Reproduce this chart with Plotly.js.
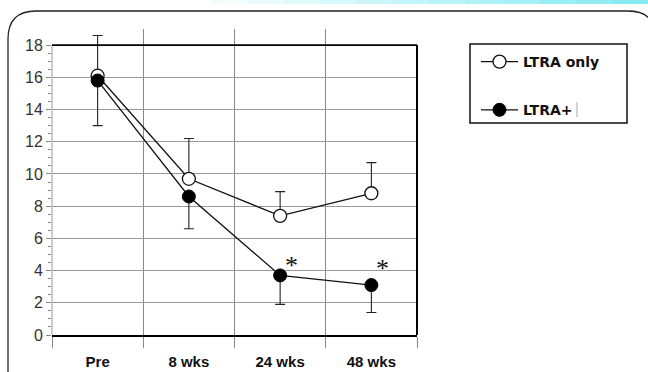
<!DOCTYPE html>
<html>
<head>
<meta charset="utf-8">
<script src="https://cdn.plot.ly/plotly-3.0.1.min.js"></script>
<style>html,body{margin:0;padding:0;background:#fff;}#chart{width:648px;height:372px;}</style>
</head>
<body>
<div id="chart"></div>
<script>
var categories = ['Pre', '8 wks', '24 wks', '48 wks'];
var ltraOnly = [16.1, 9.7, 7.4, 8.8];
var ltraOnlyErrUp = [2.5, 2.5, 1.5, 1.9];
var ltraPlus = [15.8, 8.6, 3.7, 3.1];
var ltraPlusErrDown = [2.8, 2.0, 1.8, 1.7];
var starCategories = ['24 wks', '48 wks'];
var starY = [4.3, 4.1];
var zeros = [0, 0, 0, 0];
var yMax = 18;      // top of the framed plot
var yHead = 19;     // head-room so the Pre error bar can pass the frame

var traces = [
  {
    x: categories, y: ltraOnly, type: 'scatter', mode: 'lines+markers',
    name: 'LTRA only', legendgroup: 'a',
    line: {color: '#111', width: 1.3},
    marker: {symbol: 'circle', size: 13, color: '#fff', line: {color: '#111', width: 1.3}},
    error_y: {type: 'data', symmetric: false, array: ltraOnlyErrUp, arrayminus: zeros, color: '#222', thickness: 1.1, width: 5}
  },
  {
    x: categories, y: ltraPlus, type: 'scatter', mode: 'lines+markers',
    name: 'LTRA+', legendgroup: 'b',
    line: {color: '#111', width: 1.3},
    marker: {symbol: 'circle', size: 13, color: '#000', line: {color: '#000', width: 1}},
    error_y: {type: 'data', symmetric: false, array: zeros, arrayminus: ltraPlusErrDown, color: '#222', thickness: 1.1, width: 5}
  }
];

var PT = 29, PB = 335, PL = 52, PR = 417;
function px(x) { return (x - PL) / (PR - PL); }
function py(y) { return (PB - y) / (PB - PT); }

var minorVals = [];
for (var v = 0.5; v < yMax; v += 0.5) { if (v % 2 !== 0) minorVals.push(v); }

var shapes = [];
// cyan band on top
var segs = 12;
for (var i = 0; i < segs; i++) {
  var x0 = 210 + i * (438 / segs), x1 = 210 + (i + 1) * (438 / segs);
  shapes.push({type: 'rect', xref: 'paper', yref: 'paper', x0: px(x0), x1: px(x1), y0: py(4), y1: py(0),
    fillcolor: 'rgba(110,230,240,' + (0.08 + 0.75 * i / (segs - 1)).toFixed(3) + ')', line: {width: 0}, layer: 'below'});
}
// rounded frame
var fx0 = px(8), fx1 = px(656), fyT = py(11), fyB = py(390);
var rx = 28 / (PR - PL), ry = 28 / (PB - PT);
shapes.push({type: 'path', xref: 'paper', yref: 'paper',
  path: 'M ' + fx0 + ',' + fyB + ' L ' + fx0 + ',' + (fyT - ry) + ' Q ' + fx0 + ',' + fyT + ' ' + (fx0 + rx) + ',' + fyT +
        ' L ' + (fx1 - rx) + ',' + fyT + ' Q ' + fx1 + ',' + fyT + ' ' + fx1 + ',' + (fyT - ry) + ' L ' + fx1 + ',' + fyB,
  line: {color: '#222', width: 1.3}});
// white cover over the head-room (hides grid above the frame)
shapes.push({type: 'rect', xref: 'paper', yref: 'y', x0: -0.01, x1: 1.01, y0: yMax, y1: yHead + 1, fillcolor: '#fff', line: {width: 0}, layer: 'between'});
// plot frame: left (grey), top and right (black)
shapes.push({type: 'line', xref: 'paper', yref: 'y', x0: 0, x1: 0, y0: 0, y1: yMax, line: {color: '#999', width: 1}});
shapes.push({type: 'line', xref: 'paper', yref: 'y', x0: 0, x1: 1, y0: yMax, y1: yMax, line: {color: '#000', width: 1.6}});
shapes.push({type: 'line', xref: 'paper', yref: 'y', x0: 1, x1: 1, y0: 0, y1: yMax, line: {color: '#000', width: 2}});
// legend box
shapes.push({type: 'rect', xref: 'paper', yref: 'paper', x0: px(470), x1: px(627), y0: py(123), y1: py(44), line: {color: '#111', width: 1.5}, fillcolor: 'rgba(0,0,0,0)'});
// thin mark after legend text
shapes.push({type: 'line', xref: 'paper', yref: 'paper', x0: px(577), x1: px(577), y0: py(102), y1: py(117), line: {color: '#aaa', width: 1}});

var annotations = starCategories.map(function (c, i) {
  return {x: c, y: starY[i], xref: 'x', yref: 'y', text: '*', showarrow: false, xshift: 11,
    font: {family: 'Liberation Serif, serif', size: 26, color: '#111'}};
});

var layout = {
  width: 648, height: 372,
  margin: {l: PL, r: 648 - PR, t: PT, b: 372 - PB},
  paper_bgcolor: '#fff', plot_bgcolor: '#fff',
  font: {family: 'Liberation Sans, Arial, sans-serif', color: '#222'},
  showlegend: true,
  legend: {
    x: px(476), y: py(46), xanchor: 'left', yanchor: 'top',
    borderwidth: 0, bgcolor: 'rgba(0,0,0,0)',
    font: {family: 'DejaVu Sans, sans-serif', size: 14, color: '#111', weight: 'bold'},
    tracegroupgap: 27, itemwidth: 37, traceorder: 'grouped'
  },
  xaxis: {
    type: 'category', range: [-0.5, 3.5], tickson: 'boundaries',
    ticks: 'outside', ticklen: 11, tickcolor: '#888', tickwidth: 1,
    showgrid: true, gridcolor: '#888', gridwidth: 1,
    showline: true, linecolor: '#000', linewidth: 2, mirror: false,
    ticklabelstandoff: 12,
    tickfont: {family: 'Liberation Sans, Arial, sans-serif', size: 15, color: '#111', weight: 'bold'},
    zeroline: false, fixedrange: true
  },
  yaxis: {
    range: [0, yHead], tickmode: 'linear', dtick: 2, tick0: 0,
    ticks: 'outside', ticklen: 5, tickcolor: '#888', tickwidth: 1,
    minor: {tickmode: 'array', tickvals: minorVals, ticks: 'outside', ticklen: 3, tickcolor: '#888', showgrid: false},
    showgrid: true, gridcolor: '#999', gridwidth: 1,
    showline: false,
    tickfont: {family: 'Liberation Sans, Arial, sans-serif', size: 16, color: '#333'},
    zeroline: false, fixedrange: true
  },
  shapes: shapes,
  annotations: annotations
};

Plotly.newPlot('chart', traces, layout, {displayModeBar: false, staticPlot: true});
</script>
</body>
</html>
